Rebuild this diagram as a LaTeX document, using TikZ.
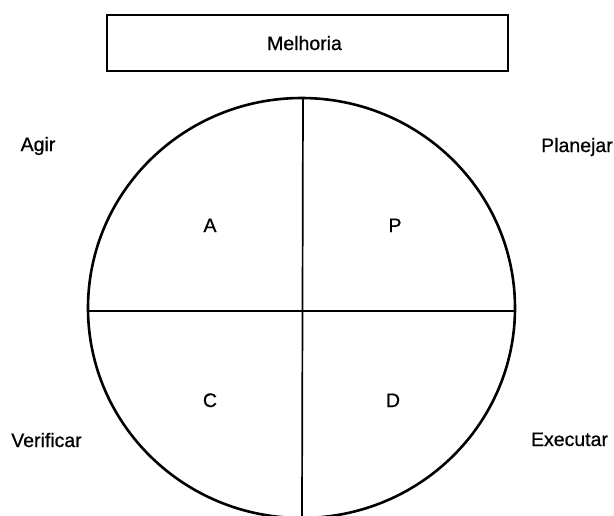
\documentclass[tikz,border=0pt]{standalone}
\usepackage{fontspec}
\setmainfont{Liberation Sans}
\newfontfamily\lblfont{Liberation Sans}[FakeBold=0.7]
\begin{document}
\begin{tikzpicture}[x=1pt,y=-1pt,
  lbl/.style={anchor=base,inner sep=0pt,font=\lblfont\fontsize{19.5}{22}\selectfont},
  thinline/.style={line width=1.7pt},
  rim/.style={line width=2.6pt}]
\useasboundingbox (0,0) rectangle (614,515);
\clip (0,0) rectangle (614,515);
\node[draw,thinline,minimum width=401pt,minimum height=56pt,inner sep=0pt] (box) at (307.5,43) {};
\node[lbl] (mel) at (304.5,50) {Melhoria};
\coordinate (c) at (301.5,308);
\draw[rim] (c) ellipse [x radius=213.5, y radius=210];
\coordinate (top) at (303,98);
\coordinate (bot) at (302,518);
\coordinate (lft) at (88,311);
\coordinate (rgt) at (515,311);
\draw[thinline] (top) -- (bot);
\draw[thinline] (lft) -- (rgt);
\node[lbl] (A) at (210,232) {A};
\node[lbl] (P) at (395,232) {P};
\node[lbl] (C) at (210,407) {C};
\node[lbl] (D) at (393,407) {D};
\node[lbl] (agir) at (38,151) {Agir};
\node[lbl] (plan) at (577,152) {Planejar};
\node[lbl] (ver) at (46.5,447) {Verificar};
\node[lbl] (exe) at (569.5,446) {Executar};
\end{tikzpicture}
\end{document}
